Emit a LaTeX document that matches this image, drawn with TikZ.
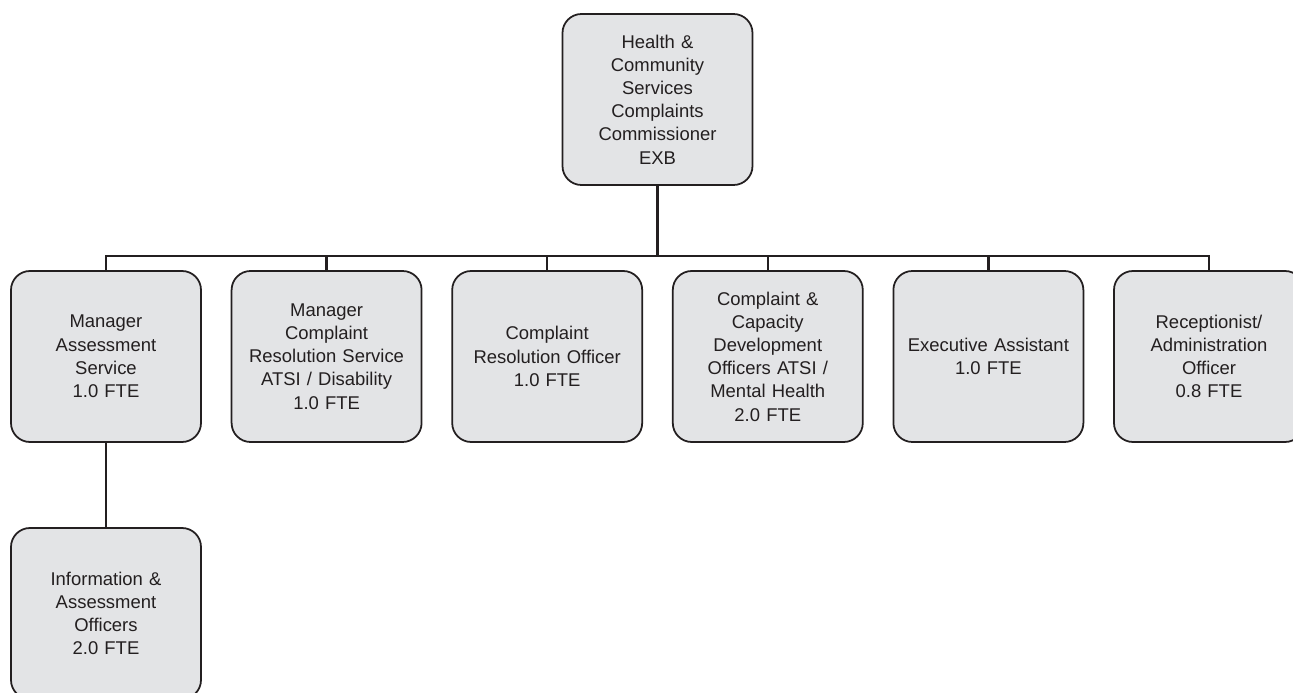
\documentclass[tikz,border=0pt]{standalone}
\usepackage{fontspec}
\setmainfont{Liberation Sans}
\usepackage{tikz}
\usetikzlibrary{positioning,trees}
\definecolor{boxgray}{RGB}{227,228,230}
\definecolor{inkgray}{RGB}{35,31,32}

\begin{document}
\begin{tikzpicture}[
		basic/.style  = {draw=inkgray, line width=1pt, rectangle, rounded corners=10.8pt, fill=boxgray, text=inkgray, align=center, text width=3.5cm, inner xsep=0.15cm, inner ysep=0pt, minimum height=3.42cm, font=\fontsize{10.5}{13.2}\selectfont},
		root/.style   = {basic},
		level 1/.style = {sibling distance=4.412cm, level distance=5.14cm},
		level 2/.style = {level distance=5.14cm},
		edge from parent/.style={draw=inkgray, line width=1.3pt},
		edge from parent path={(\tikzparentnode.south) -- ++(0,-1.4) -| (\tikzchildnode.north)}]

		\useasboundingbox (-13.15,1.99) rectangle (12.71,-11.87);

		% root of the chart
		\node[root] (root) {Health \&\\ Community\\ Services\\ Complaints\\ Commissioner\\ EXB}
		% the first level
		child {node[basic] (c1) {Manager\\ Assessment\\ Service\\ 1.0 FTE}
			% the second level
			child {node[basic] (c11) {Information \&\\ Assessment\\ Officers\\ 2.0 FTE}}
		}
		child {node[basic] (c2) {Manager\\ Complaint\\ Resolution Service\\ ATSI / Disability\\ 1.0 FTE}}
		child {node[basic] (c3) {Complaint\\ Resolution Officer\\ 1.0 FTE}}
		child {node[basic] (c4) {Complaint \&\\ Capacity\\ Development\\ Officers ATSI /\\ Mental Health\\ 2.0 FTE}}
		child {node[basic] (c5) {Executive Assistant\\ 1.0 FTE}}
		child {node[basic] (c6) {Receptionist/\\ Administration\\ Officer\\ 0.8 FTE}};

	\end{tikzpicture}
\end{document}
